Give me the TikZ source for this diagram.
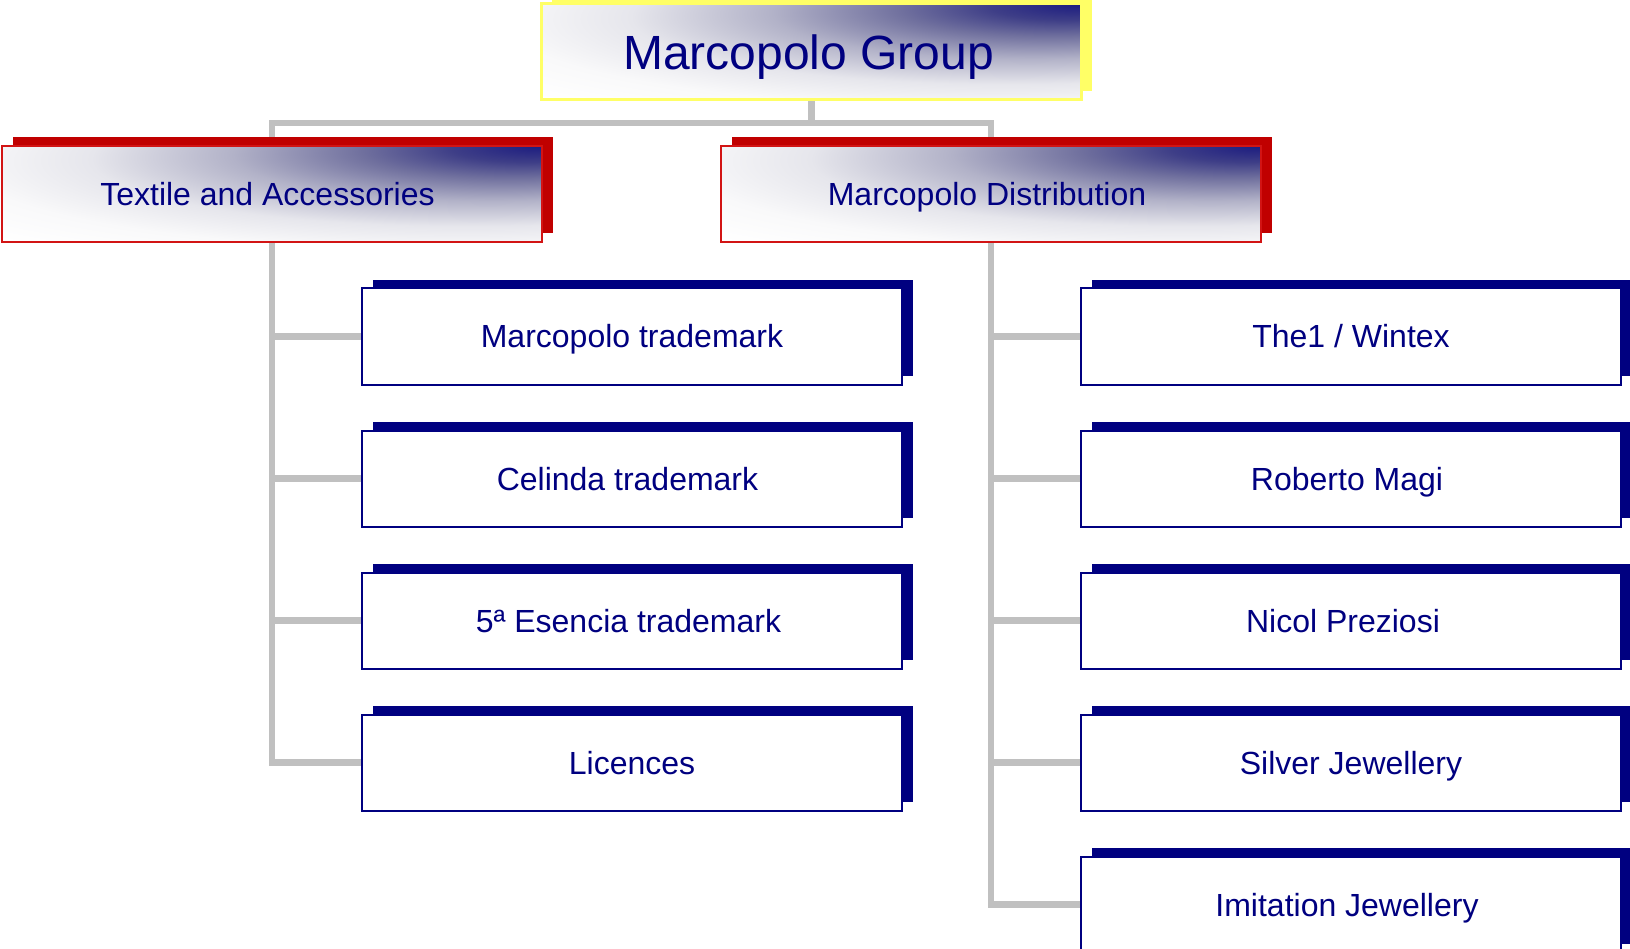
\documentclass[tikz,border=0pt]{standalone}
\usepackage{fontspec}
\setmainfont{Liberation Sans}
\usetikzlibrary{shadows,backgrounds}
\definecolor{navyc}{RGB}{0,0,128}
\definecolor{redsh}{RGB}{192,0,0}
\definecolor{redbd}{RGB}{210,20,20}
\definecolor{yelc}{RGB}{255,255,102}
\definecolor{greyc}{RGB}{192,192,192}
\definecolor{g0}{RGB}{28,28,128}
\definecolor{g1}{RGB}{62,62,135}
\definecolor{g2}{RGB}{112,112,158}
\definecolor{g3}{RGB}{178,178,200}
\definecolor{g4}{RGB}{230,230,236}
\definecolor{g5}{RGB}{249,249,250}
\pgfdeclareradialshading{cornergrad}{\pgfpoint{25bp}{25bp}}{color(0bp)=(g0); color(7bp)=(g1); color(14bp)=(g2); color(24bp)=(g3); color(35bp)=(g4); color(45bp)=(g5); color(55bp)=(white); color(130bp)=(white)}
\tikzset{
  box/.style={rectangle, minimum width=540pt, minimum height=96pt, inner sep=0pt,
    text=navyc, font=\fontsize{32}{38}\selectfont, line width=2pt,
    text height=23pt, text depth=0pt},
  topbox/.style={box, draw=yelc, line width=3pt, shading=cornergrad,
    drop shadow={shadow xshift=10.5pt, shadow yshift=8.5pt, fill=yelc, opacity=1},
    font=\fontsize{48}{56}\selectfont, text height=34.5pt},
  midbox/.style={box, draw=redbd, shading=cornergrad,
    drop shadow={shadow xshift=10.5pt, shadow yshift=8.5pt, fill=redsh, opacity=1}},
  leafbox/.style={box, draw=navyc, fill=white,
    drop shadow={shadow xshift=10.5pt, shadow yshift=8.5pt, fill=navyc, opacity=1}},
  conn/.style={draw=greyc, line width=6.5pt}
}
\begin{document}
\begin{tikzpicture}[x=1pt,y=-1pt]
\useasboundingbox (0,0) rectangle (1630,949);
\clip (0,0) rectangle (1630,949);
\node[topbox] (top) at (811.5,52) {\hspace*{-6pt}Marcopolo Group};
\node[midbox] (ta) at (272,194) {\hspace*{-9pt}Textile and Accessories};
\node[midbox] (md) at (991,194) {\hspace*{-8pt}Marcopolo Distribution};
\node[leafbox] (l1) at (632,336.5) {Marcopolo trademark};
\node[leafbox] (l2) at (632,478.5) {\hspace*{-9pt}Celinda trademark};
\node[leafbox] (l3) at (632,620.5) {\hspace*{-7pt}5ª Esencia trademark};
\node[leafbox] (l4) at (632,762.5) {Licences};
\node[leafbox] (r1) at (1351,336.5) {The1 / Wintex};
\node[leafbox] (r2) at (1351,478.5) {\hspace*{-8pt}Roberto Magi};
\node[leafbox] (r3) at (1351,620.5) {\hspace*{-16pt}Nicol Preziosi};
\node[leafbox] (r4) at (1351,762.5) {Silver Jewellery};
\node[leafbox] (r5) at (1351,904.5) {\hspace*{-8pt}Imitation Jewellery};
\coordinate (bar) at (0,123);
\begin{scope}[on background layer]
\draw[conn] (top.south) -- (top.south |- bar) -| (ta.north);
\draw[conn] (top.south |- bar) -| (md.north);
\foreach \n in {l1,l2,l3,l4} \draw[conn] (ta.south) |- (\n.west);
\foreach \n in {r1,r2,r3,r4,r5} \draw[conn] (md.south) |- (\n.west);
\end{scope}
\end{tikzpicture}
\end{document}
